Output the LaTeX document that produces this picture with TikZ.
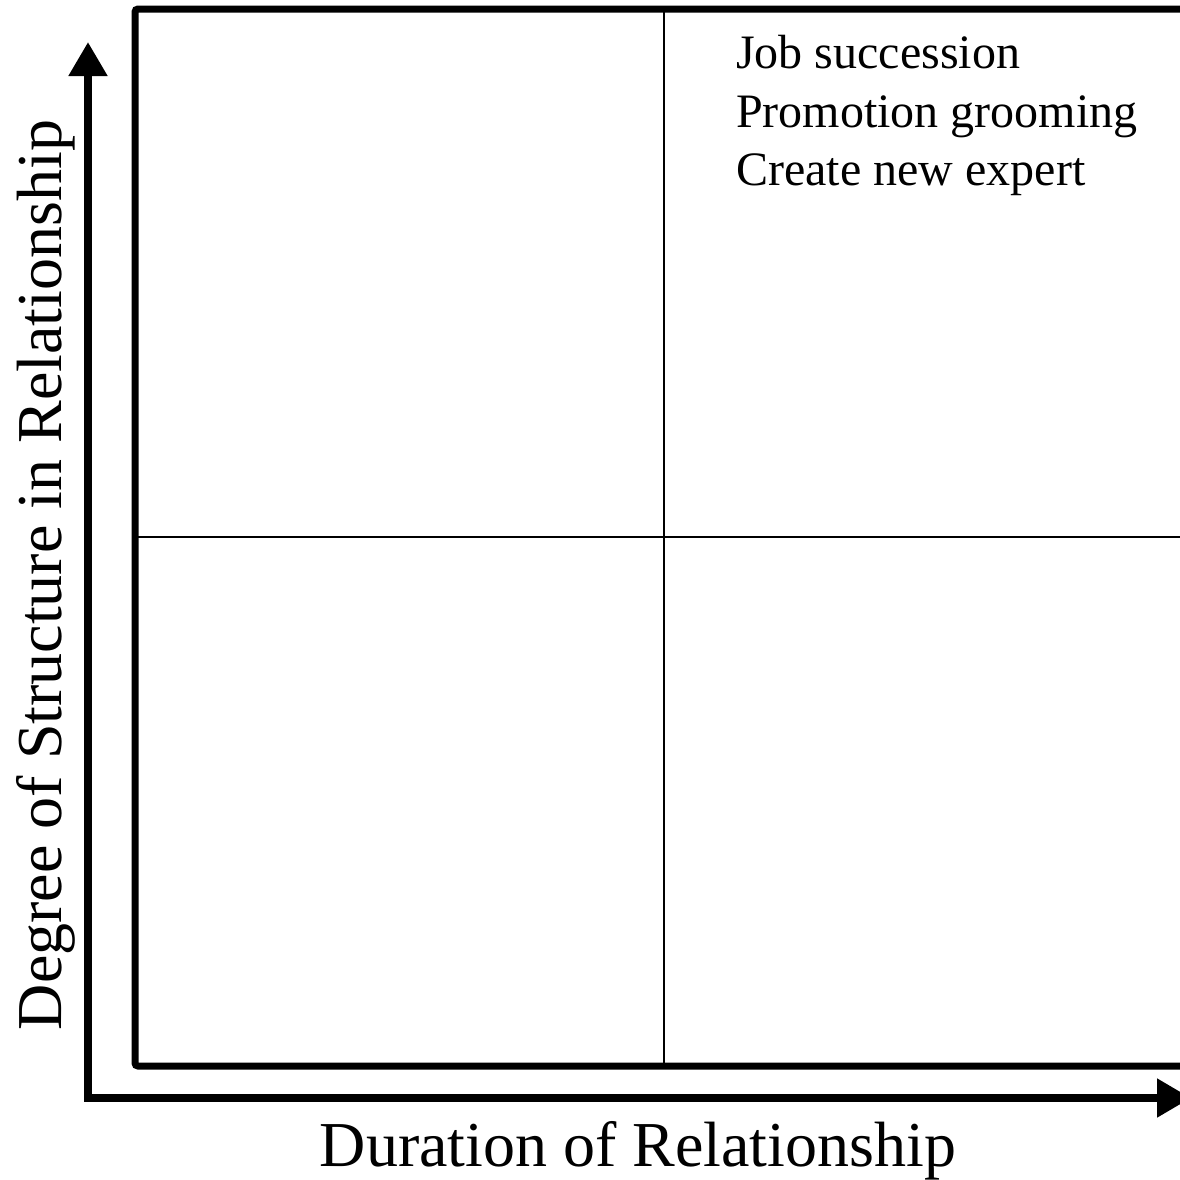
\documentclass[tikz,border=0pt]{standalone}
\usepackage{fontspec}
\setmainfont{Liberation Serif}
\usetikzlibrary{arrows.meta}
\begin{document}
\begin{tikzpicture}[x=1pt,y=-1pt,
  frame/.style={line width=7pt,rounded corners=3pt},
  divider/.style={line width=1.6pt},
  axis/.style={line width=8pt,{Triangle[length=34pt,width=37pt]}-{Triangle[length=34pt,width=37pt]}},
  axislabel/.style={font=\fontsize{64}{70}\selectfont,inner sep=0pt},
  item/.style={font=\fontsize{48}{58}\selectfont,inner sep=0pt,anchor=base west}]
\useasboundingbox (0,0) rectangle (1180,1179);
\clip (0,0) rectangle (1180,1179);
% coordinates
\coordinate (tl) at (135,9);
\coordinate (bl) at (135,1066);
\coordinate (tr) at (1220,9);
\coordinate (br) at (1220,1066);
\coordinate (vt) at (664,9);
\coordinate (vb) at (664,1066);
\coordinate (hl) at (135,537);
\coordinate (hr) at (1220,537);
\coordinate (ytip) at (88,42);
\coordinate (origin) at (88,1098);
\coordinate (xtip) at (1191,1098);
% dividers
\draw[divider] (vt) -- (vb);
\draw[divider] (hl) -- (hr);
% frame
\draw[frame] (tr) -- (tl) -- (bl) -- (br);
% axes
\draw[axis,line join=miter] (ytip) -- (origin) -- (xtip);
% labels
\node[axislabel,anchor=base] (xlabel) at (638,1166) {Duration of Relationship};
\node[axislabel,anchor=base,rotate=90] (ylabel) at (61,575) {Degree of Structure in Relationship};
\node[item] (i1) at (736,68) {Job succession};
\node[item] (i2) at (736,127) {Promotion grooming};
\node[item] (i3) at (736,185) {Create new expert};
\end{tikzpicture}
\end{document}
